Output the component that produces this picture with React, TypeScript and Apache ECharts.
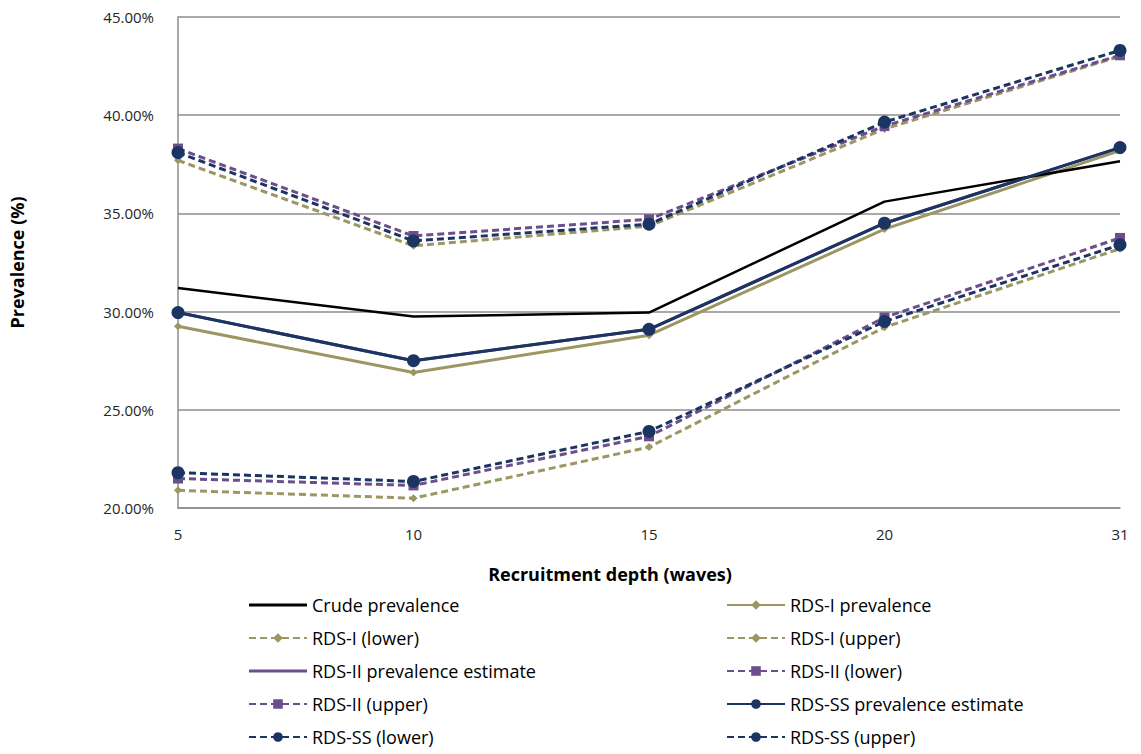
import React, { useEffect, useRef } from "react";
import * as echarts from "echarts";

const categories = ["5", "10", "15", "20", "31"];
const crude = [31.2, 29.75, 29.95, 35.6, 37.65];
const rds1 = [29.25, 26.9, 28.8, 34.2, 38.2];
const rds1Lower = [20.9, 20.5, 23.1, 29.2, 33.2];
const rds1Upper = [37.7, 33.35, 34.35, 39.3, 43.0];
const rds2 = [29.95, 27.5, 29.1, 34.5, 38.35];
const rds2Lower = [21.5, 21.15, 23.65, 29.7, 33.75];
const rds2Upper = [38.3, 33.85, 34.7, 39.45, 43.05];
const rdsSS = [29.95, 27.5, 29.1, 34.5, 38.35];
const rdsSSLower = [21.8, 21.35, 23.9, 29.5, 33.4];
const rdsSSUpper = [38.1, 33.6, 34.45, 39.65, 43.3];

const legendLeft = ["Crude prevalence", "RDS-I (lower)", "RDS-II prevalence estimate", "RDS-II (upper)", "RDS-SS (lower)"];
const legendRight = ["RDS-I prevalence", "RDS-I (upper)", "RDS-II (lower)", "RDS-SS prevalence estimate", "RDS-SS (upper)"];
const plainLines = ["Crude prevalence", "RDS-II prevalence estimate"];

const OLIVE = "#9c9662";
const PURPLE = "#6a4f8c";
const NAVY = "#1b3461";
const FONT = "Open Sans";
const LINE_ICON = "path://M0 0 H58 V3 H0 Z";

export default function App() {
  const ref = useRef<HTMLDivElement>(null);
  useEffect(() => {
    if (!ref.current) return;
    const chart = echarts.init(ref.current, null, { renderer: "svg" });
    const mk = (name: string, data: number[], color: string, dashed: boolean, symbol: string, size: number, width: number, z = 2) => ({
      name,
      type: "line",
      data,
      z,
      symbol,
      symbolSize: size,
      showSymbol: symbol !== "none",
      lineStyle: { color, width, type: dashed ? [7, 4] : "solid" },
      itemStyle: { color },
    });
    const legendData = (names: string[]) =>
      names.map((n) => (plainLines.includes(n) ? { name: n, icon: LINE_ICON } : { name: n }));
    const legendBase = {
      top: 590,
      height: 200,
      orient: "vertical",
      itemWidth: 58,
      itemHeight: 12,
      itemGap: 13,
      textStyle: { fontFamily: FONT, fontSize: 18, color: "#000", lineHeight: 20 },
    };
    chart.setOption({
      animation: false,
      grid: { left: 172, right: 21, top: 17, bottom: 246 },
      xAxis: {
        type: "category",
        data: categories,
        boundaryGap: false,
        axisLine: { lineStyle: { color: "#8c8c8c", width: 1.5 } },
        axisTick: { show: false },
        axisLabel: { fontFamily: FONT, fontSize: 15, color: "#262626", margin: 18 },
      },
      yAxis: {
        type: "value",
        min: 20,
        max: 45,
        interval: 5,
        name: "Prevalence (%)",
        nameLocation: "middle",
        nameGap: 152,
        nameTextStyle: { fontFamily: FONT, fontSize: 18, fontWeight: "bold", color: "#000" },
        axisLine: { show: true, lineStyle: { color: "#8c8c8c", width: 1.5 } },
        axisTick: { show: false },
        splitLine: { lineStyle: { color: "#8c8c8c", width: 1.5 } },
        axisLabel: { fontFamily: FONT, fontSize: 15, color: "#262626", margin: 24, formatter: (v: number) => v.toFixed(2) + "%" },
      },
      legend: [
        { ...legendBase, left: 243, data: legendData(legendLeft) },
        { ...legendBase, left: 721, data: legendData(legendRight) },
      ],
      graphic: [
        {
          type: "text",
          x: 610,
          y: 574,
          style: { text: "Recruitment depth (waves)", fontFamily: FONT, fontSize: 18, fontWeight: "bold", fill: "#000", align: "center", verticalAlign: "middle" },
        },
      ],
      series: [
        mk("Crude prevalence", crude, "#000000", false, "none", 0, 2.5, 3),
        mk("RDS-I prevalence", rds1, OLIVE, false, "diamond", 8, 3),
        mk("RDS-I (lower)", rds1Lower, OLIVE, true, "diamond", 8, 3),
        mk("RDS-I (upper)", rds1Upper, OLIVE, true, "diamond", 8, 3),
        mk("RDS-II prevalence estimate", rds2, PURPLE, false, "none", 0, 3),
        mk("RDS-II (lower)", rds2Lower, PURPLE, true, "rect", 10, 3),
        mk("RDS-II (upper)", rds2Upper, PURPLE, true, "rect", 10, 3),
        mk("RDS-SS prevalence estimate", rdsSS, NAVY, false, "circle", 13, 3, 4),
        mk("RDS-SS (lower)", rdsSSLower, NAVY, true, "circle", 13, 3),
        mk("RDS-SS (upper)", rdsSSUpper, NAVY, true, "circle", 13, 3),
      ],
    });
    return () => chart.dispose();
  }, []);
  return <div ref={ref} style={{ position: "fixed", left: 0, top: 0, width: 1141, height: 754, background: "#fff" }} />;
}
